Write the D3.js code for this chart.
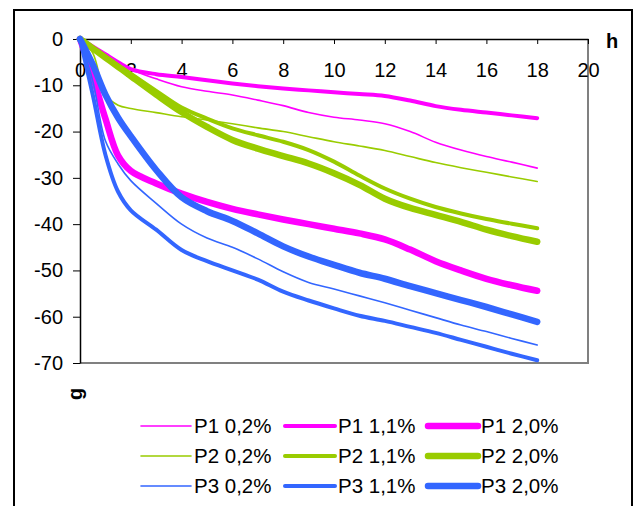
<!DOCTYPE html>
<html>
<head>
<meta charset="utf-8">
<script src="https://cdn.jsdelivr.net/npm/d3@7"></script>
<style>
  body { margin: 0; background: #fff; }
  svg text { font-family: "Liberation Sans", Arial, sans-serif; }
  .axis path, .axis line { stroke: #000; }
  .axis text { font-size: 20px; fill: #000; }
  .legend text { font-size: 20.5px; fill: #000; }
</style>
</head>
<body>
<div id="chart"></div>
<script>

// hours of measurement
var hours = [0, 0.5, 1, 1.5, 2, 3, 4, 5, 6, 7, 8, 9, 10, 11, 12, 13, 14, 15, 16, 17, 18];

// weight change (g)
var p1_02 = [0, -1.6, -3.3, -5, -6.6, -8.6, -10.3, -11.3, -12.1, -13.2, -14.4, -15.9, -16.9, -17.5, -18.3, -20, -22.3, -24, -25.4, -26.6, -27.9];
var p1_11 = [0, -1.6, -3.3, -5, -6.5, -7.6, -8.2, -8.9, -9.6, -10.2, -10.7, -11.1, -11.5, -11.9, -12.3, -13.3, -14.5, -15.3, -15.9, -16.5, -17.1];
var p1_20 = [0, -8, -17.2, -25.2, -28.5, -31.2, -33.4, -35.2, -36.7, -37.9, -39, -40, -41, -42, -43.3, -45.5, -48, -50, -51.8, -53.2, -54.4];

var p2_02 = [0, -3, -12, -14.3, -15, -15.9, -16.8, -17.5, -18.3, -19.2, -20, -21.1, -22.2, -23.1, -24.1, -25.4, -26.7, -27.8, -28.8, -29.8, -30.8];
var p2_11 = [0, -1.9, -3.8, -5.7, -7.5, -11.2, -14.8, -17.2, -19.3, -20.8, -22.2, -24, -26.5, -29.5, -32.3, -34.5, -36.3, -37.7, -38.9, -39.9, -40.9];
var p2_20 = [0, -2, -4, -6, -8, -12, -15.8, -19, -21.8, -23.7, -25.3, -26.9, -29, -31.5, -34.5, -36.5, -38, -39.5, -41.2, -42.6, -43.8];

var p3_02 = [0, -9, -22, -27, -30.6, -35.5, -40, -43, -45, -47.5, -50.3, -52.6, -54, -55.5, -57, -58.6, -60.2, -61.8, -63.2, -64.7, -66.1];
var p3_11 = [0, -12, -25, -33, -37, -41.2, -45.6, -48, -50, -52, -54.6, -56.5, -58.2, -59.8, -60.9, -62.2, -63.5, -65, -66.5, -68, -69.4];
var p3_20 = [0, -5.5, -12, -17, -21, -28.3, -34.2, -37.2, -39.3, -42, -44.8, -47, -48.8, -50.5, -51.8, -53.4, -54.9, -56.4, -57.9, -59.5, -61.1];

var seriesNames = ["P1 0,2%", "P1 1,1%", "P1 2,0%",
                   "P2 0,2%", "P2 1,1%", "P2 2,0%",
                   "P3 0,2%", "P3 1,1%", "P3 2,0%"];
var seriesValues = [p1_02, p1_11, p1_20, p2_02, p2_11, p2_20, p3_02, p3_11, p3_20];

var xTicks = [0, 2, 4, 6, 8, 10, 12, 14, 16, 18, 20];
var yTicks = [0, -10, -20, -30, -40, -50, -60, -70];

var colors = ["#ff00ff", "#99cc00", "#3366ff"];
var widths = [1.6, 4, 6.5];

var svg = d3.select("#chart").append("svg")
  .attr("width", 635)
  .attr("height", 506);

// outer frame
svg.append("rect")
  .attr("x", 14).attr("y", 10)
  .attr("width", 618).attr("height", 520)
  .attr("fill", "none")
  .attr("stroke", "#000")
  .attr("stroke-width", 2);

var margin = { top: 39, left: 80 };
var width = 508, height = 324;

var g = svg.append("g")
  .attr("transform", "translate(" + margin.left + "," + margin.top + ")");

var x = d3.scaleLinear().domain([0, 20]).range([0, width]);
var y = d3.scaleLinear().domain([-70, 0]).range([height, 0]);

// plot area border (right / bottom)
g.append("path")
  .attr("d", "M" + x(20) + "," + y(0) + "V" + y(-70) + "H" + x(0))
  .attr("fill", "none")
  .attr("stroke", "#808080")
  .attr("stroke-width", 2);

var plain = function(d) { return String(d); }; // keep ascii hyphen for minus

var xAxis = g.append("g")
  .attr("class", "axis x-axis")
  .call(d3.axisBottom(x).tickValues(xTicks).tickFormat(plain)
    .tickSize(5).tickPadding(19).tickSizeOuter(0));
xAxis.select(".domain").attr("stroke-width", 1.5);

var yAxis = g.append("g")
  .attr("class", "axis y-axis")
  .call(d3.axisLeft(y).tickValues(yTicks).tickFormat(plain)
    .tickSize(7).tickPadding(10).tickSizeOuter(0));
yAxis.select(".domain").attr("stroke-width", 1.5);
yAxis.selectAll(".tick line").attr("stroke", "#555");

var line = d3.line()
  .x(function(d, i) { return x(hours[i]); })
  .y(function(d) { return y(d); })
  .curve(d3.curveCatmullRom.alpha(0.5));

seriesValues.forEach(function(vals, i) {
  g.append("path")
    .datum(vals)
    .attr("fill", "none")
    .attr("stroke", colors[Math.floor(i / 3)])
    .attr("stroke-width", widths[i % 3])
    .attr("stroke-linecap", "round")
    .attr("stroke-linejoin", "round")
    .attr("d", line);
});

// axis titles
svg.append("text")
  .attr("x", 606).attr("y", 48)
  .style("font-size", "20px").style("font-weight", "bold")
  .text("h");

svg.append("text")
  .attr("transform", "translate(82,394)rotate(-90)")
  .attr("text-anchor", "middle")
  .style("font-size", "20px").style("font-weight", "bold")
  .text("g");

// legend
var legX = [141, 285, 428];
var legY = [426, 456, 486];
var legend = svg.append("g").attr("class", "legend");
seriesNames.forEach(function(name, i) {
  var cx = legX[i % 3], cy = legY[Math.floor(i / 3)];
  legend.append("line")
    .attr("x1", cx).attr("x2", cx + 50)
    .attr("y1", cy).attr("y2", cy)
    .attr("stroke", colors[Math.floor(i / 3)])
    .attr("stroke-width", widths[i % 3])
    .attr("stroke-linecap", "round");
  legend.append("text")
    .attr("x", cx + 53).attr("y", cy + 7)
    .text(name);
});

</script>
</body>
</html>
